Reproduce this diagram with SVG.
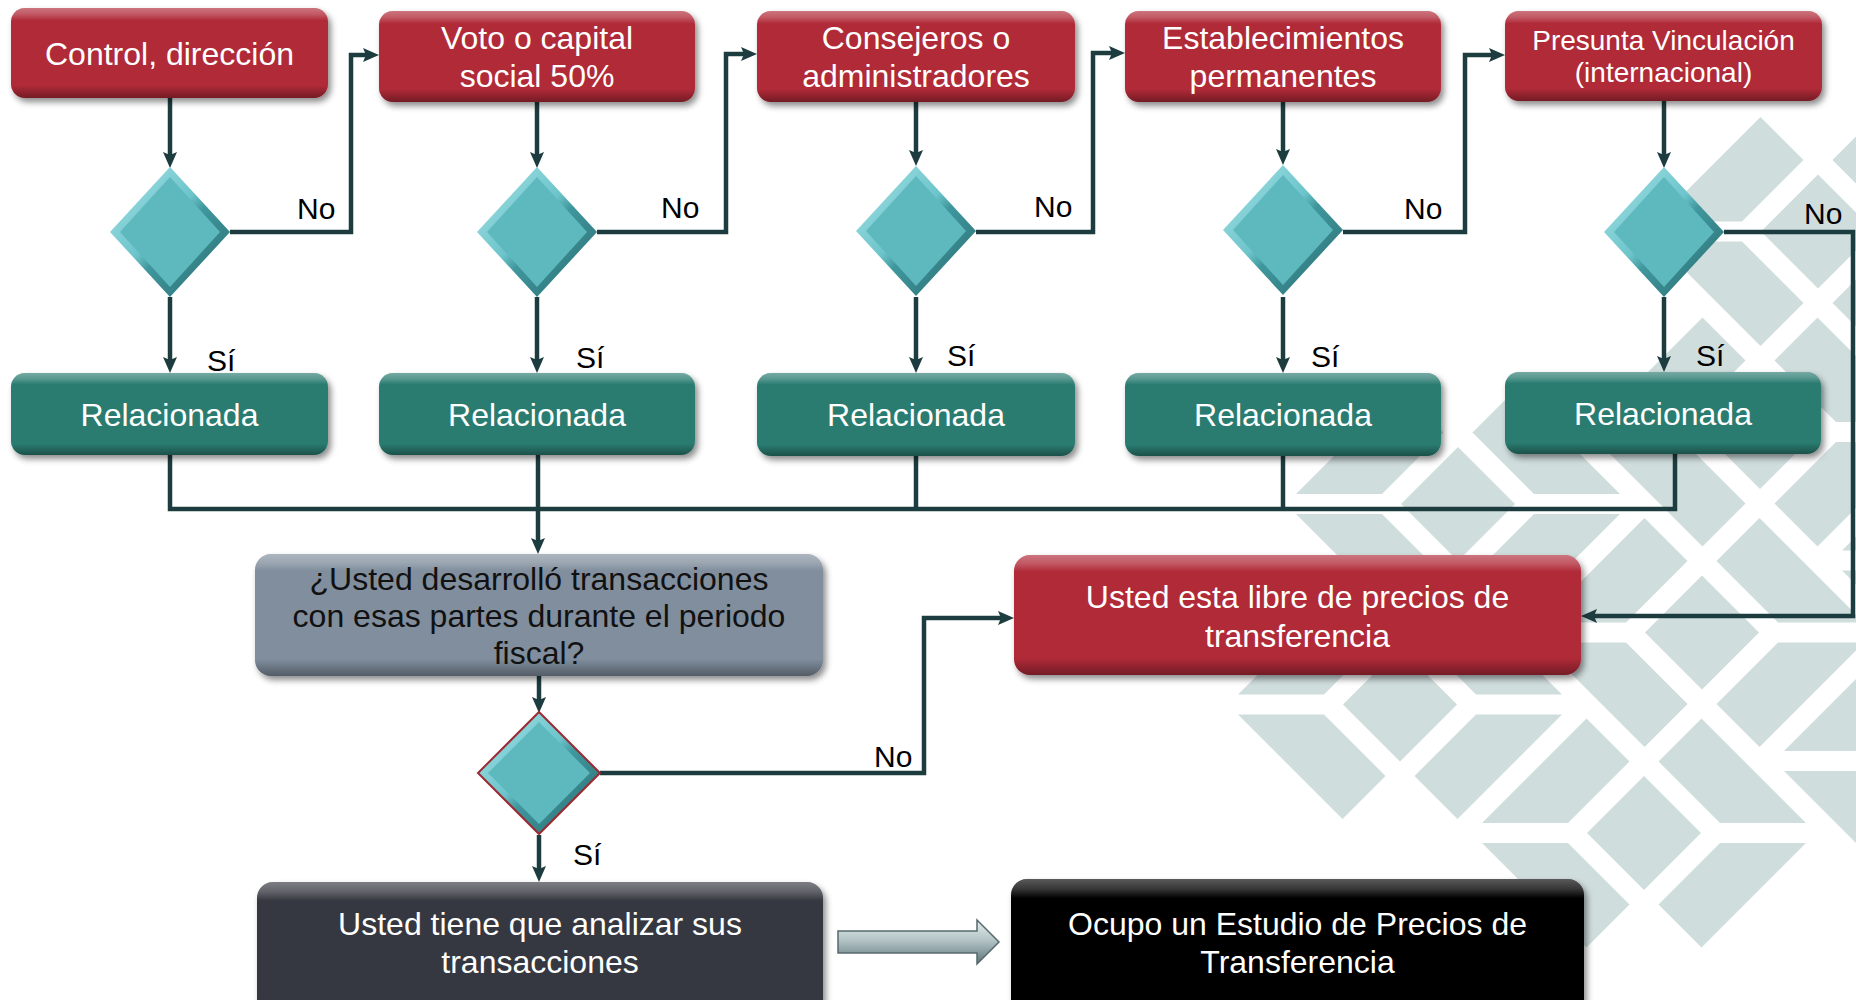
<svg xmlns="http://www.w3.org/2000/svg" xmlns:xlink="http://www.w3.org/1999/xlink" width="1856" height="1000" viewBox="0 0 1856 1000">
<style>
  text { font-family: "Liberation Sans", Arial, sans-serif; }
  .t32 { font-size: 32px; fill: #ffffff; text-anchor: middle; }
  .t28 { font-size: 28px; fill: #ffffff; text-anchor: middle; }
  .dark { fill: #111111; }
  .lbl { font-size: 30px; fill: #000000; }
  .red { fill: #b02938; }
  .teal { fill: #2a7c71; }
  .grey { fill: #808e9d; }
  .slate { fill: #353940; }
  .black { fill: #060606; }
  .gloss { fill: url(#gloss); }
  .conn { fill: none; stroke: #1d3c3f; stroke-width: 4.5; }
</style>
<defs>
  <filter id="shadow" x="-10%" y="-10%" width="125%" height="140%">
    <feDropShadow dx="3" dy="4" stdDeviation="3" flood-color="#000" flood-opacity="0.45"/>
  </filter>
  <linearGradient id="gloss" x1="0" y1="0" x2="0" y2="1">
    <stop offset="0" stop-color="#fff" stop-opacity="0.35"/>
    <stop offset="0.07" stop-color="#fff" stop-opacity="0.22"/>
    <stop offset="0.14" stop-color="#fff" stop-opacity="0"/>
    <stop offset="0.86" stop-color="#000" stop-opacity="0"/>
    <stop offset="1" stop-color="#000" stop-opacity="0.35"/>
  </linearGradient>
  <linearGradient id="diaG" x1="0" y1="0" x2="1" y2="1">
    <stop offset="0" stop-color="#a8e4e9"/>
    <stop offset="0.45" stop-color="#6cc4ca"/>
    <stop offset="0.55" stop-color="#3f979d"/>
    <stop offset="1" stop-color="#28696e"/>
  </linearGradient>
  <linearGradient id="blockG" x1="0" y1="0" x2="0" y2="1">
    <stop offset="0" stop-color="#e4ecec"/>
    <stop offset="0.45" stop-color="#b5c5c7"/>
    <stop offset="1" stop-color="#5d7477"/>
  </linearGradient>
  <marker id="ah" markerUnits="userSpaceOnUse" markerWidth="16" markerHeight="16" viewBox="0 0 16 16" refX="8" refY="8" orient="auto">
    <path d="M0,1 L16,8 L0,15 L3,8 z" fill="#1d3c3f"/>
  </marker>
  <g id="motif" fill="#d0dddd">
    <polygon points="0,-57 57,0 0,57 -57,0"/>
    <polygon points="-57.5,-114.5 -14.5,-71.5 -76,-10 -162,-10"/>
    <polygon points="14.5,-71.5 57.5,-114.5 162,-10 76,-10"/>
    <polygon points="-162,10 -76,10 -14.5,71.5 -57.5,114.5"/>
    <polygon points="76,10 162,10 57.5,114.5 14.5,71.5"/>
  </g>
  <g id="dia">
    <polygon points="0,-65 60,0 0,65 -60,0" fill="url(#diaG)"/>
    <polygon points="0,-55 50,0 0,55 -50,0" fill="#5eb9bf"/>
  </g>
</defs>

<rect width="1856" height="1000" fill="#ffffff"/>

<g id="background-pattern">
  <use href="#motif" x="1818" y="231.5"/>
  <use href="#motif" x="1760" y="432"/>
  <use href="#motif" x="1458" y="504"/>
  <use href="#motif" x="1702" y="632.5"/>
  <use href="#motif" x="1400" y="704.5"/>
  <use href="#motif" x="1644" y="833"/>
  <use href="#motif" x="2004" y="560.5"/>
  <use href="#motif" x="1946" y="761"/>
</g>

<g id="connectors">
  <path class="conn" d="M170,98 V160" marker-end="url(#ah)"/>
  <path class="conn" d="M537,102 V160" marker-end="url(#ah)"/>
  <path class="conn" d="M916,102 V158" marker-end="url(#ah)"/>
  <path class="conn" d="M1283,102 V157" marker-end="url(#ah)"/>
  <path class="conn" d="M1664,101 V160" marker-end="url(#ah)"/>
  <path class="conn" d="M170,297 V365" marker-end="url(#ah)"/>
  <path class="conn" d="M537,297 V365" marker-end="url(#ah)"/>
  <path class="conn" d="M916,297 V365" marker-end="url(#ah)"/>
  <path class="conn" d="M1283,297 V365" marker-end="url(#ah)"/>
  <path class="conn" d="M1664,297 V364" marker-end="url(#ah)"/>
  <path class="conn" d="M230,232 H351 V55 H371" marker-end="url(#ah)"/>
  <path class="conn" d="M597,232 H726 V54 H749" marker-end="url(#ah)"/>
  <path class="conn" d="M976,232 H1093 V53 H1117" marker-end="url(#ah)"/>
  <path class="conn" d="M1343,232 H1465 V55 H1497" marker-end="url(#ah)"/>
  <path class="conn" d="M1724,232 H1853 V616 H1589" marker-end="url(#ah)"/>
  <path class="conn" d="M170,455 V509 H1675 V454"/>
  <path class="conn" d="M916,456 V509"/>
  <path class="conn" d="M1283,456 V509"/>
  <path class="conn" d="M538,455 V546" marker-end="url(#ah)"/>
  <path class="conn" d="M539,676 V705" marker-end="url(#ah)"/>
  <path class="conn" d="M600,773 H924 V618 H1006" marker-end="url(#ah)"/>
  <path class="conn" d="M539,835 V874" marker-end="url(#ah)"/>
  <g id="block-arrow">
    <path d="M838,931 H977 V920 L999,942 L977,964 V953 H838 Z" fill="url(#blockG)" stroke="#56696c" stroke-width="1.5"/>
  </g>
</g>

<g id="box1">
  <rect class="red" x="11" y="8" width="317" height="90" rx="14" filter="url(#shadow)"/>
  <rect class="gloss" x="11" y="8" width="317" height="90" rx="14"/>
  <text class="t32" x="169.5" y="65">Control, dirección</text>
</g>
<g id="box2">
  <rect class="red" x="379" y="11" width="316" height="91" rx="14" filter="url(#shadow)"/>
  <rect class="gloss" x="379" y="11" width="316" height="91" rx="14"/>
  <text class="t32" x="537" y="49">Voto o capital</text>
  <text class="t32" x="537" y="87">social 50%</text>
</g>
<g id="box3">
  <rect class="red" x="757" y="11" width="318" height="91" rx="14" filter="url(#shadow)"/>
  <rect class="gloss" x="757" y="11" width="318" height="91" rx="14"/>
  <text class="t32" x="916" y="49">Consejeros o</text>
  <text class="t32" x="916" y="87">administradores</text>
</g>
<g id="box4">
  <rect class="red" x="1125" y="11" width="316" height="91" rx="14" filter="url(#shadow)"/>
  <rect class="gloss" x="1125" y="11" width="316" height="91" rx="14"/>
  <text class="t32" x="1283" y="49">Establecimientos</text>
  <text class="t32" x="1283" y="87">permanentes</text>
</g>
<g id="box5">
  <rect class="red" x="1505" y="11" width="317" height="90" rx="14" filter="url(#shadow)"/>
  <rect class="gloss" x="1505" y="11" width="317" height="90" rx="14"/>
  <text class="t28" x="1663.5" y="50">Presunta Vinculación</text>
  <text class="t28" x="1663.5" y="82">(internacional)</text>
</g>

<g id="dec1"><use href="#dia" x="170" y="232"/></g>
<g id="dec2"><use href="#dia" x="537" y="232"/></g>
<g id="dec3"><use href="#dia" x="916" y="231"/></g>
<g id="dec4"><use href="#dia" x="1283" y="230"/></g>
<g id="dec5"><use href="#dia" x="1664" y="232"/></g>

<g id="rel1">
  <rect class="teal" x="11" y="373" width="317" height="82" rx="14" filter="url(#shadow)"/>
  <rect class="gloss" x="11" y="373" width="317" height="82" rx="14"/>
  <text class="t32" x="169.5" y="426">Relacionada</text>
</g>
<g id="rel2">
  <rect class="teal" x="379" y="373" width="316" height="82" rx="14" filter="url(#shadow)"/>
  <rect class="gloss" x="379" y="373" width="316" height="82" rx="14"/>
  <text class="t32" x="537" y="426">Relacionada</text>
</g>
<g id="rel3">
  <rect class="teal" x="757" y="373" width="318" height="83" rx="14" filter="url(#shadow)"/>
  <rect class="gloss" x="757" y="373" width="318" height="83" rx="14"/>
  <text class="t32" x="916" y="426">Relacionada</text>
</g>
<g id="rel4">
  <rect class="teal" x="1125" y="373" width="316" height="83" rx="14" filter="url(#shadow)"/>
  <rect class="gloss" x="1125" y="373" width="316" height="83" rx="14"/>
  <text class="t32" x="1283" y="426">Relacionada</text>
</g>
<g id="rel5">
  <rect class="teal" x="1505" y="372" width="316" height="82" rx="14" filter="url(#shadow)"/>
  <rect class="gloss" x="1505" y="372" width="316" height="82" rx="14"/>
  <text class="t32" x="1663" y="425">Relacionada</text>
</g>

<g id="question">
  <rect class="grey" x="255" y="554" width="568" height="122" rx="16" filter="url(#shadow)"/>
  <rect class="gloss" x="255" y="554" width="568" height="122" rx="16"/>
  <text class="t32 dark" x="539" y="590">¿Usted desarrolló transacciones</text>
  <text class="t32 dark" x="539" y="627">con esas partes durante el periodo</text>
  <text class="t32 dark" x="539" y="664">fiscal?</text>
</g>

<g id="dec6">
  <polygon points="539,712 600,773 539,834 478,773" fill="url(#diaG)" stroke="#9a2a33" stroke-width="2"/>
  <polygon points="539,722 590,773 539,824 488,773" fill="#5eb9bf"/>
</g>

<g id="libre">
  <rect class="red" x="1014" y="555" width="567" height="120" rx="16" filter="url(#shadow)"/>
  <rect class="gloss" x="1014" y="555" width="567" height="120" rx="16"/>
  <text class="t32" x="1297.5" y="608">Usted esta libre de precios de</text>
  <text class="t32" x="1297.5" y="647">transferencia</text>
</g>

<g id="analizar">
  <rect class="slate" x="257" y="882" width="566" height="135" rx="16" filter="url(#shadow)"/>
  <rect class="gloss" x="257" y="882" width="566" height="135" rx="16"/>
  <text class="t32" x="540" y="935">Usted tiene que analizar sus</text>
  <text class="t32" x="540" y="973">transacciones</text>
</g>

<g id="estudio">
  <rect class="black" x="1011" y="879" width="573" height="138" rx="16" filter="url(#shadow)"/>
  <rect class="gloss" x="1011" y="879" width="573" height="138" rx="16"/>
  <text class="t32" x="1297.5" y="935">Ocupo un Estudio de Precios de</text>
  <text class="t32" x="1297.5" y="973">Transferencia</text>
</g>

<g id="labels">
  <text class="lbl" x="297" y="219">No</text>
  <text class="lbl" x="661" y="218">No</text>
  <text class="lbl" x="1034" y="217">No</text>
  <text class="lbl" x="1404" y="219">No</text>
  <text class="lbl" x="1804" y="224">No</text>
  <text class="lbl" x="874" y="767">No</text>
  <text class="lbl" x="207" y="371">Sí</text>
  <text class="lbl" x="576" y="368">Sí</text>
  <text class="lbl" x="947" y="366">Sí</text>
  <text class="lbl" x="1311" y="367">Sí</text>
  <text class="lbl" x="1696" y="366">Sí</text>
  <text class="lbl" x="573" y="865">Sí</text>
</g>
</svg>
